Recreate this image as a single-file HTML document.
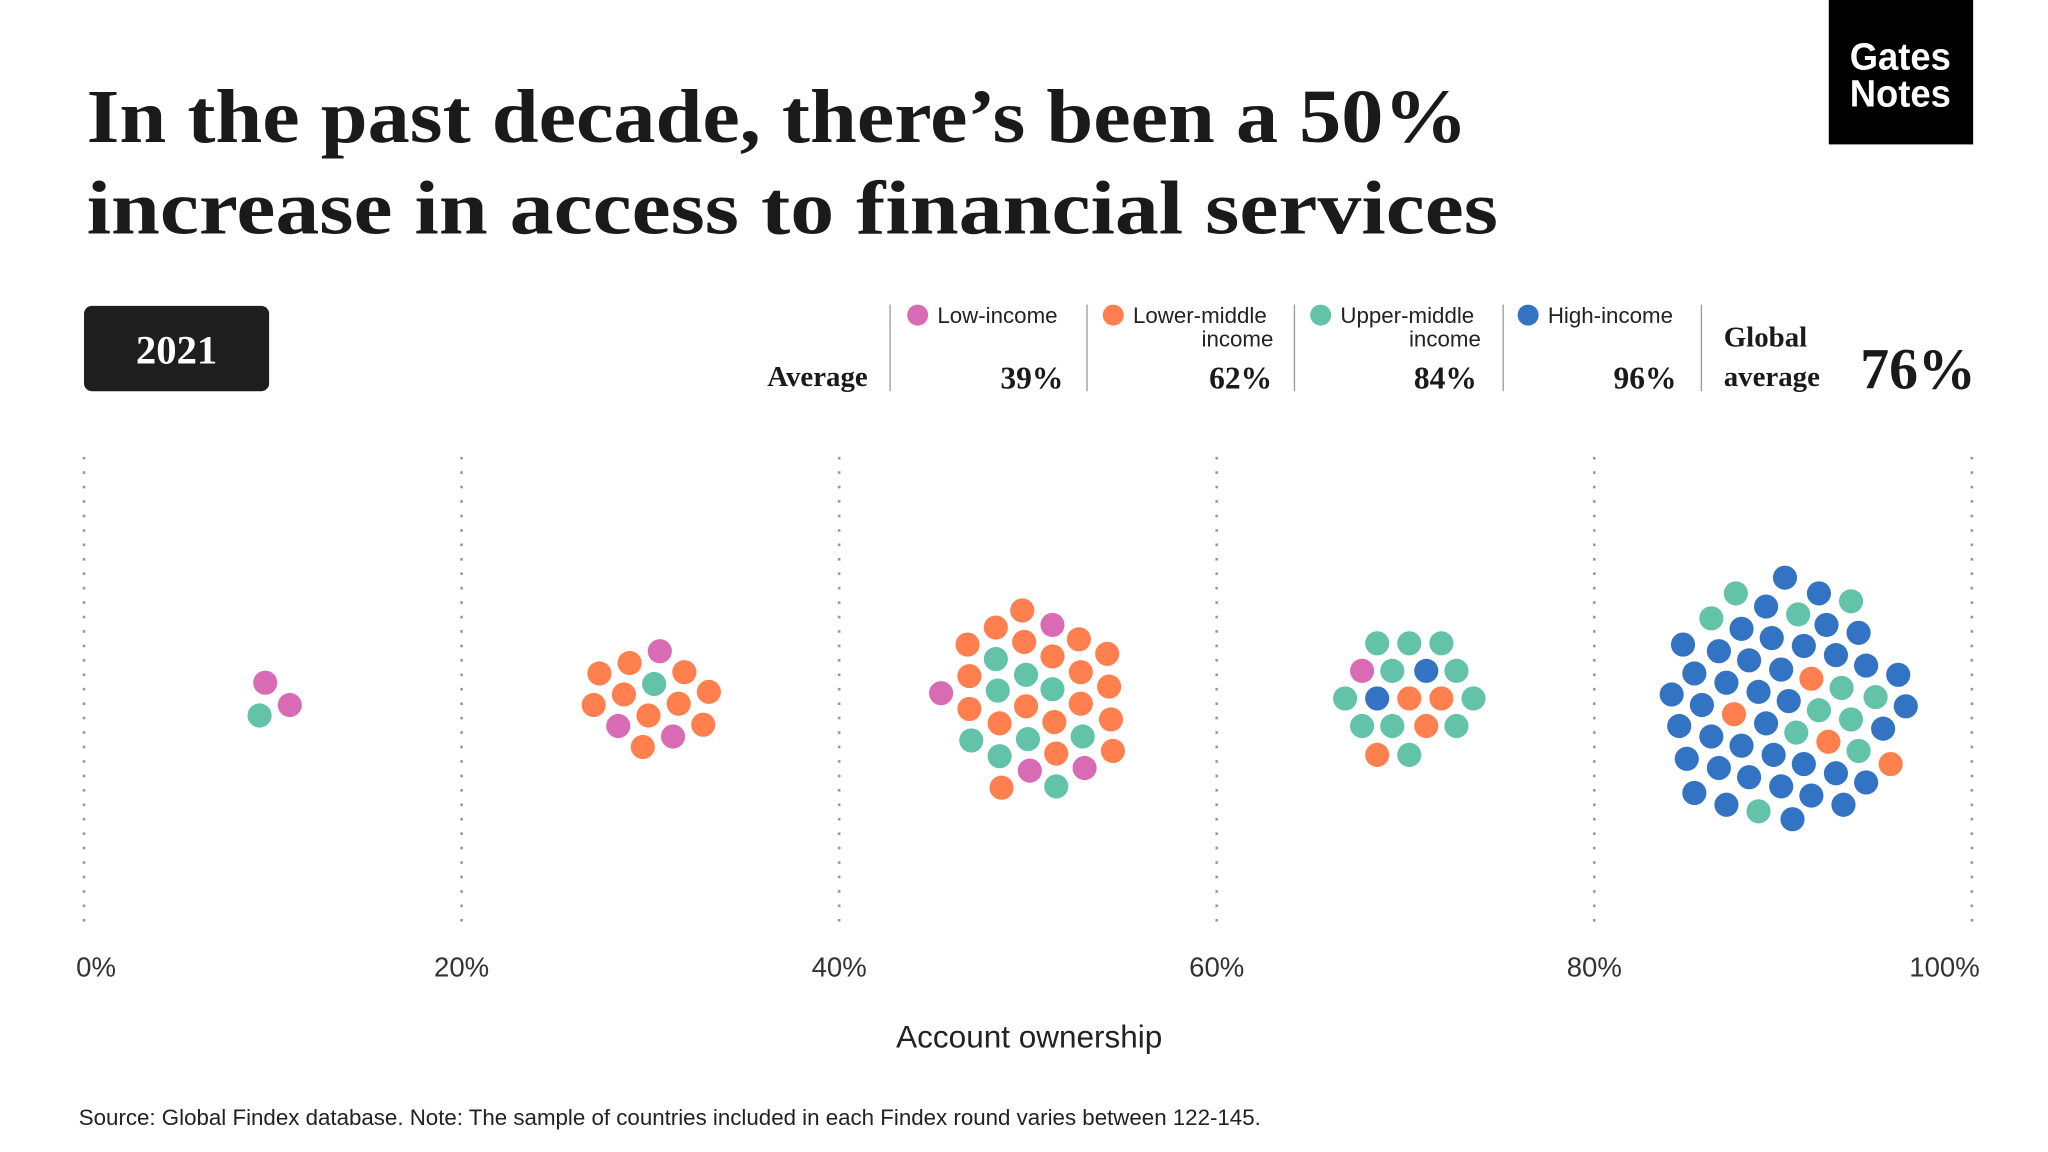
<!DOCTYPE html>
<html><head><meta charset="utf-8"><style>
html,body{margin:0;padding:0;background:#fff;}
svg{display:block;}
.serif{font-family:"Liberation Serif",serif;font-weight:bold;fill:#1a1a1a;}
.sans{font-family:"Liberation Sans",sans-serif;fill:#222;}
</style></head><body>
<svg id="chart" width="2048" height="1152" viewBox="0 0 1560 877.5" xmlns="http://www.w3.org/2000/svg">
<rect width="1560" height="877.5" fill="#fff"/>
<text class="serif" x="66" y="108" font-size="58" textLength="1052" lengthAdjust="spacingAndGlyphs">In the past decade, there’s been a 50%</text>
<text class="serif" x="66" y="178" font-size="58" textLength="1075" lengthAdjust="spacingAndGlyphs">increase in access to financial services</text>
<g>
<rect x="1393" y="0" width="110" height="110" fill="#000"/>
<text x="1409" y="53" font-family="Liberation Sans,sans-serif" font-weight="bold" font-size="29" fill="#fff" textLength="77" lengthAdjust="spacingAndGlyphs">Gates</text>
<text x="1409" y="81" font-family="Liberation Sans,sans-serif" font-weight="bold" font-size="29" fill="#fff" textLength="77" lengthAdjust="spacingAndGlyphs">Notes</text>
</g>
<g>
<rect x="64" y="233" width="141" height="65" rx="6" fill="#1e1e1e"/>
<text x="134.5" y="277" text-anchor="middle" font-family="Liberation Serif,serif" font-weight="bold" font-size="31" fill="#fff">2021</text>
</g>
<g>
<text class="serif" x="661" y="294" font-size="22" text-anchor="end">Average</text>
<g stroke="#999" stroke-width="1">
<line x1="678" y1="232" x2="678" y2="298"/><line x1="828" y1="232" x2="828" y2="298"/>
<line x1="986" y1="232" x2="986" y2="298"/><line x1="1145" y1="232" x2="1145" y2="298"/>
<line x1="1296" y1="232" x2="1296" y2="298"/>
</g>
<g>
<circle cx="699" cy="240" r="8" fill="#d96bb5"/>
<text class="sans" x="714" y="246" font-size="17">Low-income</text>
<text class="serif" x="810" y="296" font-size="24" text-anchor="end">39%</text>
</g>
<g>
<circle cx="848" cy="240" r="8" fill="#ff7f4f"/>
<text class="sans" x="863" y="246" font-size="17">Lower-middle</text>
<text class="sans" x="970" y="264" font-size="17" text-anchor="end">income</text>
<text class="serif" x="969" y="296" font-size="24" text-anchor="end">62%</text>
</g>
<g>
<circle cx="1006" cy="240" r="8" fill="#62c3a8"/>
<text class="sans" x="1021" y="246" font-size="17">Upper-middle</text>
<text class="sans" x="1128" y="264" font-size="17" text-anchor="end">income</text>
<text class="serif" x="1125" y="296" font-size="24" text-anchor="end">84%</text>
</g>
<g>
<circle cx="1164" cy="240" r="8" fill="#3373c4"/>
<text class="sans" x="1179" y="246" font-size="17">High-income</text>
<text class="serif" x="1277" y="296" font-size="24" text-anchor="end">96%</text>
</g>
<g>
<text class="serif" x="1313" y="264" font-size="22">Global</text>
<text class="serif" x="1313" y="294" font-size="22">average</text>
<text class="serif" x="1505" y="296" font-size="44" text-anchor="end">76%</text>
</g>
</g>
<g id="grid"></g>
<g id="ticks"></g>
<g id="dots"></g>
<text class="sans" x="784" y="798" font-size="24" text-anchor="middle">Account ownership</text>
<text class="sans" x="60" y="857" font-size="17">Source: Global Findex database. Note: The sample of countries included in each Findex round varies between 122-145.</text>
</svg>
<script>
const tickValues = [0, 20, 40, 60, 80, 100];
const tickLabels = ["0%", "20%", "40%", "60%", "80%", "100%"];
const dotValues = [
9.6,10.9,9.3,
30.5,28.9,27.3,31.8,30.2,28.6,33.1,27.0,29.9,31.5,32.8,28.3,31.2,29.6,
49.7,48.3,51.3,46.8,49.8,52.7,48.3,51.3,54.2,46.9,49.9,52.8,45.4,48.4,51.3,54.3,46.9,49.9,52.8,48.5,51.4,54.4,47.0,50.0,52.9,48.5,51.5,54.5,50.1,53.0,48.6,51.5,
68.5,70.2,71.9,67.7,69.3,71.1,72.7,66.8,68.5,70.2,71.9,73.6,67.7,69.3,71.1,72.7,68.5,70.2,
90.1,87.5,91.9,89.1,90.8,93.6,86.2,87.8,92.3,89.4,94.0,84.7,86.6,91.1,88.2,92.8,85.3,89.9,94.4,87.0,91.5,93.1,96.1,88.7,94.9,84.1,85.7,90.3,91.9,96.5,87.4,89.1,93.6,84.5,90.7,95.3,86.2,92.4,87.8,94.0,84.9,89.5,86.6,91.1,95.7,88.2,92.8,85.3,89.9,94.4,87.0,91.5,88.7,93.2,90.5
];
const dotOffsets = [
-1.5,0.2,1.0,
-3.9,-3.0,-2.2,-2.3,-1.4,-0.6,-0.8,0.2,1.0,0.1,1.7,1.8,2.6,3.4,
-7.0,-5.7,-5.9,-4.4,-4.6,-4.8,-3.3,-3.5,-3.7,-2.0,-2.1,-2.3,-0.7,-0.9,-1.0,-1.2,0.5,0.3,0.1,1.6,1.5,1.3,2.9,2.8,2.6,4.1,3.9,3.7,5.2,5.0,6.5,6.4,
-4.5,-4.5,-4.5,-2.4,-2.4,-2.4,-2.4,-0.3,-0.3,-0.3,-0.3,-0.3,1.8,1.8,1.8,1.8,4.0,4.0,
-9.5,-8.3,-8.3,-7.3,-6.7,-7.7,-6.4,-5.6,-5.9,-4.9,-5.3,-4.4,-3.9,-4.3,-3.2,-3.6,-2.2,-2.5,-2.8,-1.5,-1.8,-1.1,-2.1,-0.8,-0.4,-0.6,0.2,-0.1,0.6,0.3,0.9,1.6,1.3,1.8,2.3,2.0,2.6,3.0,3.3,3.7,4.3,4.0,5.0,4.7,4.7,5.7,5.4,6.9,6.4,6.1,7.8,7.1,8.3,7.8,8.9
];
const dotGroups = (
"LLU" +
"LMMMUMMMMMMLLM" +
"MMLMMMUMMMUMLUUMMMMMMMUUUUMMLLMU" +
"UUULUHUUHMMUUUMUMU" +
"HUHHUUUHHHHHHHHHHHHHMUHHUHHHUHMHUHUHHMHUHHHHMHHHHHHHUHH"
).split("");
const groupColors = {L:"#d96bb5", M:"#ff7f4f", U:"#62c3a8", H:"#3373c4"};
const groupNames = {L:"low-income", M:"lower-middle", U:"upper-middle", H:"high-income"};

const NS = "http://www.w3.org/2000/svg";
const x0 = 64, x1 = 1502, yTop = 348, yBot = 703, yCenter = 535, yUnit = 10, r = 9.2;
function xScale(v){ return x0 + (x1 - x0) * v / 100; }
function yScale(o){ return yCenter + o * yUnit; }

const grid = document.getElementById('grid');
const ticks = document.getElementById('ticks');
tickValues.forEach((v, i) => {
  const l = document.createElementNS(NS, 'line');
  l.setAttribute('x1', xScale(v)); l.setAttribute('x2', xScale(v));
  l.setAttribute('y1', yTop); l.setAttribute('y2', yBot);
  l.setAttribute('stroke', '#9a9a9a'); l.setAttribute('stroke-width', '2');
  l.setAttribute('stroke-dasharray', '2 9');
  
  
  grid.appendChild(l);
  const t = document.createElementNS(NS, 'text');
  let anchor = 'middle', tx = xScale(v);
  if (i === 0) { anchor = 'start'; tx = xScale(v) - 6; }
  if (i === tickValues.length - 1) { anchor = 'end'; tx = xScale(v) + 6; }
  t.setAttribute('x', tx); t.setAttribute('y', 744);
  t.setAttribute('text-anchor', anchor);
  t.setAttribute('font-family', 'Liberation Sans, sans-serif');
  t.setAttribute('font-size', '21'); t.setAttribute('fill', '#333');
  t.textContent = tickLabels[i];
  
  
  ticks.appendChild(t);
});

const dots = document.getElementById('dots');
dotValues.forEach((v, i) => {
  const g = dotGroups[i];
  const c = document.createElementNS(NS, 'circle');
  c.setAttribute('cx', xScale(v));
  c.setAttribute('cy', yScale(dotOffsets[i]));
  c.setAttribute('r', r);
  c.setAttribute('fill', groupColors[g]);
  
  
  dots.appendChild(c);
});
</script>
</body></html>
